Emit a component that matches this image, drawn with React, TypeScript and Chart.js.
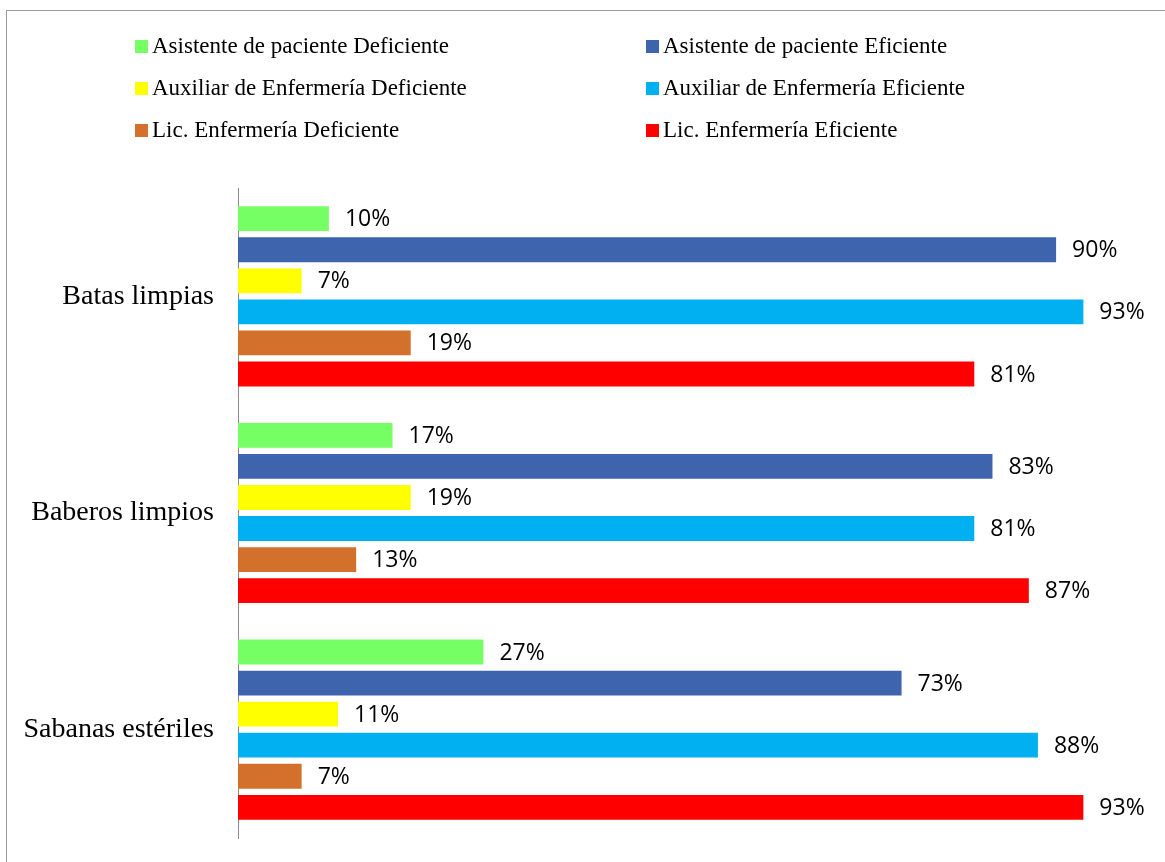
import React, { useEffect, useRef } from "react";
import { Chart, registerables } from "chart.js";

Chart.register(...registerables);

const categories = ["Batas limpias", "Baberos limpios", "Sabanas estériles"];
const seriesLabels = [
  "Asistente de paciente Deficiente",
  "Asistente de paciente Eficiente",
  "Auxiliar de Enfermería Deficiente",
  "Auxiliar de Enfermería Eficiente",
  "Lic. Enfermería Deficiente",
  "Lic. Enfermería Eficiente",
];
const seriesColors = ["#77FF66", "#3D64AD", "#FFFF00", "#00B0F0", "#D2702C", "#FF0000"];
const asistenteDeficiente = [10, 17, 27];
const asistenteEficiente = [90, 83, 73];
const auxiliarDeficiente = [7, 19, 11];
const auxiliarEficiente = [93, 81, 88];
const licDeficiente = [19, 13, 7];
const licEficiente = [81, 87, 93];
const seriesValues = [
  asistenteDeficiente,
  asistenteEficiente,
  auxiliarDeficiente,
  auxiliarEficiente,
  licDeficiente,
  licEficiente,
];

const valueLabels = {
  id: "valueLabels",
  afterDatasetsDraw(chart: any) {
    const ctx = chart.ctx;
    ctx.save();
    ctx.font = "23px 'Open Sans'";
    ctx.fillStyle = "#000";
    ctx.textAlign = "left";
    ctx.textBaseline = "middle";
    chart.data.datasets.forEach((ds: any, i: number) => {
      const meta = chart.getDatasetMeta(i);
      meta.data.forEach((bar: any, j: number) => {
        ctx.fillText(ds.data[j] + "%", bar.x + 16, bar.y + 1);
      });
    });
    ctx.restore();
  },
};

export default function App() {
  const canvasRef = useRef<HTMLCanvasElement | null>(null);

  useEffect(() => {
    document.body.style.margin = "0";
    const chart = new Chart(canvasRef.current as HTMLCanvasElement, {
      type: "bar",
      data: {
        labels: categories,
        datasets: seriesValues.map((vals, i) => ({
          label: seriesLabels[i],
          data: vals,
          backgroundColor: seriesColors[i],
          borderWidth: 0,
          categoryPercentage: 0.86,
          barPercentage: 0.8,
        })),
      },
      options: {
        indexAxis: "y",
        animation: false,
        responsive: false,
        maintainAspectRatio: false,
        layout: { padding: { top: 188, bottom: 24, right: 18, left: 0 } },
        plugins: {
          legend: { display: false },
          tooltip: { enabled: false },
        },
        scales: {
          x: { display: false, min: 0, max: 100 },
          y: {
            afterFit(scale: any) {
              scale.width = 238;
              scale.paddingTop = 0;
              scale.paddingBottom = 0;
            },
            grid: { display: false, drawTicks: false },
            border: { display: true, color: "#8c8c8c", width: 1 },
            ticks: {
              padding: 24,
              color: "#000",
              font: { family: "'Liberation Serif'", size: 28 },
            },
          },
        },
      },
      plugins: [valueLabels],
    });
    return () => chart.destroy();
  }, []);

  const legendItem = (i: number) => (
    <div key={i} style={{ display: "flex", alignItems: "center", height: 42 }}>
      <span
        style={{
          display: "inline-block",
          width: 13,
          height: 13,
          background: seriesColors[i],
          marginRight: 4,
        }}
      />
      <span>{seriesLabels[i]}</span>
    </div>
  );

  return (
    <div style={{ position: "relative", width: 1165, height: 862, overflow: "hidden", background: "#fff" }}>
      <div
        style={{
          position: "absolute",
          left: 6,
          top: 10,
          width: 1200,
          height: 900,
          borderTop: "1px solid #9a9a9a",
          borderLeft: "1px solid #9a9a9a",
        }}
      />
      <canvas ref={canvasRef} width={1165} height={862} style={{ position: "absolute", left: 0, top: 0 }} />
      <div
        style={{
          position: "absolute",
          left: 135,
          top: 25,
          display: "grid",
          gridTemplateColumns: "511px 400px",
          fontFamily: "'Liberation Serif'",
          fontSize: 23,
          color: "#000",
        }}
      >
        {[0, 1, 2, 3, 4, 5].map((i) => legendItem(i))}
      </div>
    </div>
  );
}
